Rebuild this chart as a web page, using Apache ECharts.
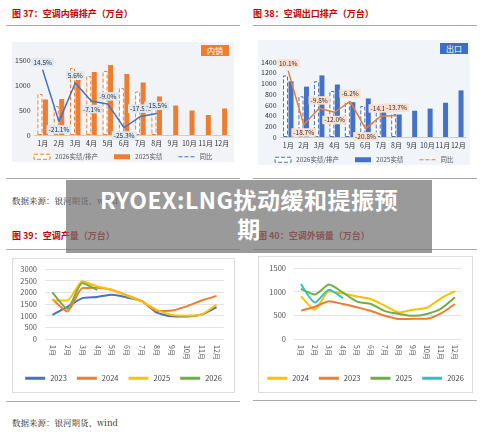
<!DOCTYPE html>
<html><head><meta charset="utf-8">
<script src="https://cdn.jsdelivr.net/npm/echarts@6/dist/echarts.min.js"></script>
<style>
body{margin:0;width:500px;height:433px;position:relative;background:#fff;font-family:"Noto Sans CJK SC",sans-serif;overflow:hidden}
.t{position:absolute;color:#c00000;font-weight:bold;font-size:9px;white-space:nowrap}
.hl{position:absolute;height:1px;background:#aaa}
.src{position:absolute;font-family:"Noto Serif CJK SC","DejaVu Serif",serif;font-size:8.5px;color:#222}
.c{position:absolute}
.badge{position:absolute;color:#fff;font-size:8px;padding:0 6px;line-height:11px;z-index:5}
#ov{position:absolute;left:66px;top:180px;width:366px;height:73px;background:rgba(115,115,115,0.72);color:#fff;font-weight:bold;font-size:23px;text-align:center;line-height:29px;padding-top:5px;box-sizing:border-box;z-index:10;font-family:"Noto Sans CJK SC",sans-serif;letter-spacing:0.5px}
</style></head><body>
<div class="t" style="left:12px;top:7px">图 37：空调内销排产（万台）</div>
<div class="hl" style="left:6px;top:25px;width:234px"></div>
<div class="t" style="left:253px;top:7px">图 38：空调出口排产（万台）</div>
<div class="hl" style="left:253px;top:25px;width:224px"></div>
<div class="c" id="c1" style="left:12px;top:42px;width:222px;height:120px;background:#f2f3f7"></div>
<div class="badge" style="left:201px;top:45px;background:#ed7d31">内销</div>
<div class="c" id="c2" style="left:258px;top:40px;width:212px;height:125px;background:#f1f4f9"></div>
<div class="badge" style="left:440px;top:43px;background:#3b6fc4">出口</div>
<div class="hl" style="left:6px;top:178px;width:234px"></div>
<div class="hl" style="left:253px;top:178px;width:224px"></div>
<div class="src" style="left:12px;top:194px">数据来源：银河期货、wind</div>
<div class="t" style="left:12px;top:229px">图 39：空调产量（万台）</div>
<div class="hl" style="left:6px;top:249px;width:234px"></div>
<div class="t" style="left:258px;top:229px">图 40：空调外销量（万台）</div>
<div class="hl" style="left:253px;top:249px;width:224px"></div>
<div class="c" id="c3" style="left:12px;top:258px;width:221px;height:133px;border:1px solid #ddd"></div>
<div class="c" id="c4" style="left:258px;top:256px;width:213px;height:135px;border:1px solid #ddd"></div>
<div class="hl" style="left:6px;top:401px;width:234px"></div>
<div class="hl" style="left:253px;top:400px;width:224px"></div>
<div class="src" style="left:12px;top:416px">数据来源：银河期货、wind</div>
<div id="ov">RYOEX:LNG扰动缓和提振预<br>期</div>
<script>
var months=['1月','2月','3月','4月','5月','6月','7月','8月','9月','10月','11月','12月'];
var dom26=[820,580,1340,1180,1280,940,870,650];
var dom25=[710,720,1100,1260,1400,1220,1050,770,590,490,400,530];
var domYoy=[14.5,-21.1,5.6,-7.1,-9.0,-25.3,-17.5,-15.5];
var exp26=[1150,760,1040,860,650,580,560,430];
var exp25=[1040,940,1150,980,650,720,570,420,490,530,640,870];
var expYoy=[10.1,-18.7,-9.8,-12.0,-6.2,-20.8,-14.1,-13.7];
var prod2023=[1030,1380,1750,1800,1900,1780,1620,1130,970,960,1050,1370];
var prod2024=[1700,1180,2180,2200,2100,1870,1620,1200,1220,1400,1650,1850];
var prod2025=[1650,1650,2470,2250,2100,1850,1600,1250,1030,1000,1050,1480];
var prod2026=[2000,1300,2400,2100];
var ex2024=[900,620,1010,960,900,840,700,560,620,660,860,1010];
var ex2023=[600,680,800,740,670,590,490,420,430,430,540,740];
var ex2025=[1060,940,1150,980,790,740,590,530,490,530,640,880];
var ex2026=[1160,770,1040,860];
var F='"Noto Sans CJK SC",sans-serif';
function plain(v){return String(v);}
function barChart(id,d26,d25,yoy,col,lineCol,lblBg,ymax,yint,ymin2,ymax2,pos,grid){
  var c=echarts.init(document.getElementById(id));
  c.setOption({animation:false,textStyle:{fontFamily:F},
    grid:grid,
    legend:{bottom:2,left:'center',padding:0,itemWidth:16,itemHeight:5,itemGap:16,textStyle:{fontSize:6.5,color:'#555'},
      data:[{name:'2026实绩/排产',icon:'rect',itemStyle:{color:'#fff',borderColor:col,borderWidth:1,borderType:'dashed'}},{name:'2025实绩',icon:'rect'},{name:'同比',icon:'path://M0,0H4V1H0ZM6,0H10V1H6ZM12,0H16V1H12Z'}]},
    xAxis:{type:'category',data:months,axisTick:{show:false},axisLine:{lineStyle:{color:'#ccc'}},axisLabel:{fontSize:7,color:'#333',margin:5,interval:0}},
    yAxis:[{type:'value',min:0,max:ymax,interval:yint,splitLine:{show:false},axisLabel:{fontSize:7,color:'#333',margin:4,formatter:plain}},
      {type:'value',min:ymin2,max:ymax2,show:false,splitLine:{show:false}}],
    series:[
      {name:'2026实绩/排产',type:'bar',data:d26,barWidth:5,barGap:'10%',itemStyle:{color:'#fff',borderColor:col,borderWidth:1,borderType:'dashed'}},
      {name:'2025实绩',type:'bar',data:d25,barWidth:5,itemStyle:{color:col}},
      {name:'同比',type:'line',yAxisIndex:1,data:yoy.map(function(v,i){return {value:v,label:{position:pos[i]}};}),
        symbol:'circle',symbolSize:1,showSymbol:true,
        lineStyle:{color:lineCol,width:1.5},itemStyle:{color:lineCol},
        label:{show:true,formatter:function(p){return Number(p.value).toFixed(1)+'%';},fontSize:6.5,color:'#333',backgroundColor:lblBg,padding:[1,2],distance:3}}
    ]});
}
barChart('c1',dom26,dom25,domYoy,'#ed7d31','#4472c4','#dde8f3',1500,500,-30.3,21.4,
  ['top','bottom','top','bottom','top','bottom','top','top'],{left:20,right:4,top:18,bottom:27});
barChart('c2',exp26,exp25,expYoy,'#4472c4','#ed7d31','#fbe0d0',1400,200,-25.3,15.0,
  ['top','bottom','top','bottom','top','bottom','top','top'],{left:19,right:4,top:22,bottom:28});
function lineChart(id,names,datas,cols,ymax,yint,grid){
  var c=echarts.init(document.getElementById(id));
  c.setOption({animation:false,textStyle:{fontFamily:F},grid:grid,
    legend:{bottom:10,left:'center',padding:0,itemWidth:20,itemHeight:3,itemGap:10,icon:'rect',textStyle:{fontSize:7.5,color:'#444'},data:names},
    xAxis:{type:'category',data:months,axisTick:{show:false},axisLine:{show:false},axisLabel:{fontSize:7,color:'#555',rotate:-90,margin:6,interval:0}},
    yAxis:{type:'value',min:0,max:ymax,interval:yint,axisLine:{show:false},axisTick:{show:false},splitLine:{lineStyle:{color:'#e3e3e3'}},axisLabel:{fontSize:7.5,color:'#555',formatter:plain}},
    series:names.map(function(n,i){return {name:n,type:'line',data:datas[i],symbol:'none',smooth:0.2,lineStyle:{color:cols[i],width:2},itemStyle:{color:cols[i]}};})
  });
}
lineChart('c3',['2023','2024','2025','2026'],[prod2023,prod2024,prod2025,prod2026],['#4472c4','#ed7d31','#ffc000','#70ad47'],3000,500,{left:32,right:10,top:10,bottom:53});
lineChart('c4',['2024','2023','2025','2026'],[ex2024,ex2023,ex2025,ex2026],['#ffc000','#ed7d31','#70ad47','#2fc0c0'],1500,500,{left:35,right:10,top:11,bottom:53});
</script>
</body></html>
